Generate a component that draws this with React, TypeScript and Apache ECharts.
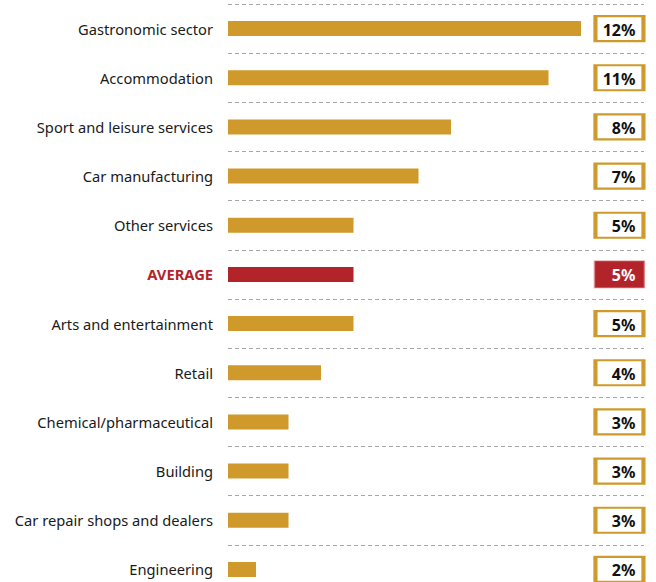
import React, { useEffect, useRef } from "react";
import * as echarts from "echarts";

const categories = [
  "Gastronomic sector",
  "Accommodation",
  "Sport and leisure services",
  "Car manufacturing",
  "Other services",
  "AVERAGE",
  "Arts and entertainment",
  "Retail",
  "Chemical/pharmaceutical",
  "Building",
  "Car repair shops and dealers",
  "Engineering",
];
const values = [12, 11, 8, 7, 5, 5, 5, 4, 3, 3, 3, 2];
const valueLabels = ["12%", "11%", "8%", "7%", "5%", "5%", "5%", "4%", "3%", "3%", "3%", "2%"];
const highlight = "AVERAGE";

const GOLD = "#CF9A2B";
const RED = "#B2242A";
const FONT = "'Noto Sans', sans-serif";
const BOX_X = 0.941;

export default function App() {
  const ref = useRef<HTMLDivElement>(null);
  useEffect(() => {
    if (!ref.current) return;
    const chart = echarts.init(ref.current, null, { renderer: "svg" });
    const option = {
      animation: false,
      grid: {
        left: 228,
        width: 416,
        top: 4,
        height: 590,
        containLabel: false,
        outerBoundsMode: "none",
      },
      xAxis: [
        { type: "value", min: 1.138, max: 13.938, show: false },
        { type: "value", min: 0, max: 1, show: false },
      ],
      yAxis: {
        type: "category",
        data: categories,
        inverse: true,
        axisLine: { show: false },
        axisTick: { show: false },
        splitLine: {
          show: true,
          interval: 0,
          lineStyle: { type: [4, 3], color: "#a8a8a8", width: 1 },
        },
        axisLabel: {
          interval: 0,
          margin: 15,
          fontFamily: FONT,
          fontSize: 14.7,
          color: "#1a1a1a",
          formatter: (v: string) => (v === highlight ? "{avg|" + v + "}" : v),
          rich: {
            avg: { fontFamily: FONT, fontSize: 14.7, fontWeight: "bold", color: RED },
          },
        },
      },
      series: [
        {
          type: "bar",
          xAxisIndex: 0,
          barWidth: 15,
          clip: true,
          data: values.map((v, i) => ({
            value: v,
            itemStyle: { color: categories[i] === highlight ? RED : GOLD },
          })),
        },
        {
          type: "scatter",
          xAxisIndex: 1,
          symbol: "rect",
          clip: false,
          silent: true,
          data: categories.map((c, i) => {
            const hi = c === highlight;
            return {
              value: [BOX_X, c],
              symbolSize: hi ? [50, 27] : [48, 25],
              itemStyle: hi
                ? { color: RED, borderColor: "#dc8a8d", borderWidth: 1, opacity: 1 }
                : { color: "#ffffff", borderColor: GOLD, borderWidth: 3, opacity: 1 },
              label: {
                show: true,
                position: "inside",
                align: "right",
                verticalAlign: "middle",
                offset: [16, 1],
                formatter: valueLabels[i],
                fontFamily: FONT,
                fontSize: 16,
                fontWeight: "bold",
                color: hi ? "#ffffff" : "#111111",
              },
            };
          }),
        },
      ],
    };
    chart.setOption(option as any);
    return () => chart.dispose();
  }, []);
  return (
    <div
      ref={ref}
      style={{ position: "absolute", left: 0, top: 0, width: 656, height: 582, background: "#fff" }}
    />
  );
}
